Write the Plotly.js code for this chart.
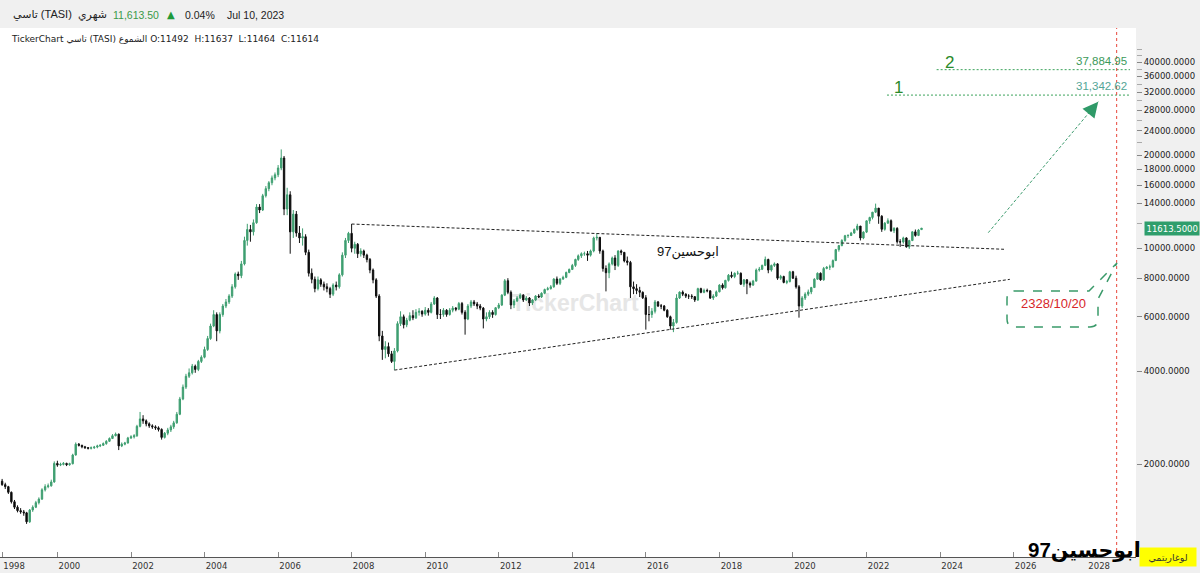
<!DOCTYPE html>
<html>
<head>
<meta charset="utf-8">
<script src="https://cdn.plot.ly/plotly-3.0.1.min.js"></script>
<style>
html,body{margin:0;padding:0;background:#f0f0f0;}
#chart{width:1200px;height:573px;}
</style>
</head>
<body>
<div id="chart"></div>
<script>
// ---- monthly candles of TASI, first candle = July 1998 ----
const firstMonth = [1998, 7];

const opens = [
  1760,1715,1690,1620,1510,1450,
  1413,1400,1390,1300,1420,1450,1500,1540,1650,1690,1700,1750,
  2010,1985,1995,2010,1990,2005,2140,2320,2300,2275,2260,2250,
  2258,2270,2290,2300,2330,2370,2420,2470,2500,2290,2320,2340,
  2430,2450,2470,2650,2800,2760,2700,2660,2640,2620,2590,2440,
  2518,2580,2640,2720,2900,3250,3550,3850,3950,4150,4050,4300,
  4437,4700,5100,5600,6100,5400,6100,6500,6700,7000,7500,8250,
  8150,8900,10600,11500,11300,12100,13600,13300,14800,15600,16300,16900,
  17300,18200,19600,13400,14900,11300,12900,11200,10800,10900,9700,8300,
  7933,7400,7900,7650,7500,7400,7100,7600,7500,8200,9500,10600,
  11176,10000,10300,9600,9800,9500,9200,8500,7900,7000,5200,4700,
  4803,4550,4300,4650,5700,6000,5650,5850,6050,5950,6200,6250,
  6121,6300,6200,6600,6900,6100,6100,6300,6100,6300,6400,6350,
  6620,6200,5900,6500,6700,6600,6500,6400,5900,6000,6200,6100,
  6418,6550,7050,7850,7200,6550,6750,6900,7050,6800,6900,6650,
  6801,7000,6950,7150,7350,7400,7500,7950,7700,7950,8050,8350,
  8536,8800,9200,9450,9600,9600,9500,9800,10800,10850,9800,8600,
  8333,8900,9300,8800,9800,9700,9100,9000,7500,7400,7300,7200,
  6912,6100,6100,6250,6700,6500,6500,6300,6000,5600,5750,6900,
  7210,7100,7000,7000,6970,6800,7400,7200,7300,7280,6900,7000,
  7226,7600,7450,7870,8180,8100,8300,8300,7650,7900,7700,7600,
  7827,8500,8550,8800,9200,8500,8800,8900,8000,8100,7750,7800,
  8389,8000,7500,6500,6900,7100,7220,7460,7940,8300,7900,8600,
  8690,8700,9120,9900,10200,10600,10980,11000,11200,11500,11800,10800,
  11280,12270,12580,13090,13490,12700,11520,12060,12280,11400,11600,10500,
  10480,10800,10100,10590,11300,11000,11492
];
const highs = [
  1790,1740,1700,1630,1530,1470,
  1440,1420,1400,1430,1470,1520,1560,1670,1720,1730,1780,2040,
  2050,2020,2030,2020,2020,2160,2350,2340,2310,2290,2270,2280,
  2290,2310,2320,2350,2390,2440,2500,2530,2510,2350,2360,2450,
  2480,2500,2680,2950,2880,2790,2730,2690,2670,2650,2610,2540,
  2620,2680,2760,2950,3300,3620,3920,4080,4220,4200,4350,4500,
  4800,5200,5700,6300,6200,6200,6600,6850,7100,7650,8350,8400,
  9100,10900,12000,11900,12400,13900,13900,15000,15900,16500,17200,17600,
  18600,20900,19900,15700,15300,13300,13200,11800,11600,11100,9900,8600,
  8100,8100,8000,7800,7700,7500,7700,7800,8300,9700,10800,11300,
  11980,10500,10400,10000,9900,9600,9300,8600,8000,7100,5400,5000,
  4950,4650,4750,5800,6250,6100,5950,6200,6300,6350,6400,6300,
  6450,6400,6700,7000,6950,6350,6400,6350,6400,6500,6450,6700,
  6700,6300,6600,6800,6800,6700,6600,6450,6200,6300,6300,6450,
  6650,7100,7950,8000,7300,6850,7000,7150,7100,7000,6950,6850,
  7050,7100,7200,7400,7500,7600,8000,8100,8000,8150,8400,8600,
  8900,9250,9550,9700,9750,9800,9900,10900,11160,10850,9900,8800,
  9000,9400,9500,9850,9900,9700,9400,9100,7800,7650,7500,7250,
  7050,6500,6400,6800,6750,6600,6550,6350,6050,5900,7100,7250,
  7300,7150,7100,7100,7000,7450,7450,7400,7400,7300,7100,7300,
  7650,7700,7900,8250,8400,8350,8450,8350,7950,7950,7800,7900,
  8600,8700,8850,9400,9250,8850,9000,8950,8200,8150,7900,8450,
  8450,8150,7600,7000,7200,7350,7500,8000,8350,8350,8700,8750,
  8850,9200,9950,10250,10700,11050,11100,11300,11600,12000,11800,11350,
  12300,12650,13100,13950,13500,12800,12150,12500,12400,11700,11700,10700,
  10900,10850,10650,11350,11500,11550,11637
];
const lows = [
  1700,1660,1600,1490,1430,1395,
  1380,1360,1280,1290,1400,1440,1480,1530,1630,1670,1690,1740,
  1960,1970,1980,1970,1975,1995,2130,2280,2250,2240,2230,2230,
  2240,2250,2270,2290,2310,2360,2410,2460,2220,2270,2300,2330,
  2410,2420,2450,2630,2700,2650,2620,2600,2580,2550,2400,2420,
  2480,2540,2600,2700,2880,3220,3500,3800,3900,3950,4000,4250,
  4400,4650,5050,5550,5000,5300,6000,6400,6600,6900,7400,7900,
  8000,8800,10200,10500,11000,12000,13000,13200,14600,15300,16000,16600,
  17000,17900,12800,12800,9600,10800,10900,10400,10200,9500,8100,7700,
  7200,7300,7500,7300,7200,6900,7000,7300,7400,8100,9300,10400,
  9700,9600,9300,9400,9300,9000,8300,7700,6900,5000,4350,4400,
  4450,4250,4030,4600,5600,5500,5550,5800,5850,5900,6050,6000,
  6050,6050,6150,6550,5900,5900,6000,6000,6050,6200,6250,6300,
  6100,5250,5850,6400,6500,6350,6300,5500,5800,5900,5950,6050,
  6350,6500,7000,7100,6350,6400,6700,6850,6700,6750,6500,6550,
  6750,6900,6900,7100,7300,7350,7450,7600,7600,7900,8000,8300,
  8500,8700,9100,9300,9450,9100,9400,9700,10600,9600,8400,7250,
  8000,8800,8500,8700,9500,9000,8800,6900,7100,7100,6950,6850,
  5450,5800,5950,6150,6450,6350,6250,5950,5450,5350,5700,6850,
  7000,6900,6850,6850,6700,6750,7150,7150,7200,6850,6800,6950,
  7200,7350,7400,7800,8000,8000,8200,7600,7500,7100,7450,7550,
  7800,8400,8500,8750,8300,8400,8700,7900,7900,7700,7650,7750,
  7950,7400,5960,6400,6800,7000,7100,7450,7900,7850,7850,8550,
  8500,8650,9100,9750,10150,10500,10800,10950,11150,11400,10600,10700,
  11200,12000,12400,13000,12000,11300,11400,12000,11300,11200,10350,10100,
  10350,10050,9950,10550,10900,10950,11464
];
const closes = [
  1715,1690,1620,1510,1450,1413,
  1400,1390,1300,1420,1450,1500,1540,1650,1690,1700,1750,2010,
  1985,1995,2010,1990,2005,2140,2320,2300,2275,2260,2250,2258,
  2270,2290,2300,2330,2370,2420,2470,2500,2290,2320,2340,2430,
  2450,2470,2650,2800,2760,2700,2660,2640,2620,2590,2440,2518,
  2580,2640,2720,2900,3250,3550,3850,3950,4150,4050,4300,4437,
  4700,5100,5600,6100,5400,6100,6500,6700,7000,7500,8250,8150,
  8900,10600,11500,11300,12100,13600,13300,14800,15600,16300,16900,17300,
  18200,19600,13400,14900,11300,12900,11200,10800,10900,9700,8300,7933,
  7400,7900,7650,7500,7400,7100,7600,7500,8200,9500,10600,11176,
  10000,10300,9600,9800,9500,9200,8500,7900,7000,5200,4700,4803,
  4550,4300,4650,5700,6000,5650,5850,6050,5950,6200,6250,6121,
  6300,6200,6600,6900,6100,6100,6300,6100,6300,6400,6350,6620,
  6200,5900,6500,6700,6600,6500,6400,5900,6000,6200,6100,6418,
  6550,7050,7850,7200,6550,6750,6900,7050,6800,6900,6650,6801,
  7000,6950,7150,7350,7400,7500,7950,7700,7950,8050,8350,8536,
  8800,9200,9450,9600,9600,9500,9800,10800,10850,9800,8600,8333,
  8900,9300,8800,9800,9700,9100,9000,7500,7400,7300,7200,6912,
  6100,6100,6250,6700,6500,6500,6300,6000,5600,5750,6900,7210,
  7100,7000,7000,6970,6800,7400,7200,7300,7280,6900,7000,7226,
  7600,7450,7870,8180,8100,8300,8300,7650,7900,7700,7600,7827,
  8500,8550,8800,9200,8500,8800,8900,8000,8100,7750,7800,8389,
  8000,7500,6500,6900,7100,7220,7460,7940,8300,7900,8600,8690,
  8700,9120,9900,10200,10600,10980,11000,11200,11500,11800,10800,11280,
  12270,12580,13090,13490,12700,11520,12060,12280,11400,11600,10500,10480,
  10800,10100,10590,11300,11000,11460,11614
];

// ---- drawn studies ----
const upperTrendX = ['2008-01-01', '2025-09-27'];
const upperTrendY = [11980, 9925];
const lowerTrendX = ['2009-03-01', '2025-11-24'];
const lowerTrendY = [4030, 7931];
const arrowX = ['2025-04-24', '2028-04-20'];
const arrowY = [11233, 29830];
const targetLevels = [31342.62, 37884.95];
const targetNames = ['1', '2'];
const targetLevelText = ['31,342.62', '37,884.95'];
const targetStarts = ['2022-07-23', '2023-11-28'];
const targetEnd = '2029-03-01';
const markerDate = '2028-10-20';
const markerText = '2328/10/20';
const lastPrice = 11613.5;

// ---- axis labels ----
const yTickVals = [2000,4000,6000,8000,10000,14000,16000,18000,20000,24000,28000,32000,36000,40000];
const yMinorVals = [12000,22000,26000,30000,34000,38000,42000,44000];
const xTickVals = ['1998-07-01','2000-01-01','2002-01-01','2004-01-01','2006-01-01','2008-01-01','2010-01-01','2012-01-01','2014-01-01','2016-01-01','2018-01-01','2020-01-01','2022-01-01','2024-01-01','2026-01-01','2028-01-01'];
const xTickText = ['1998','2000','2002','2004','2006','2008','2010','2012','2014','2016','2018','2020','2022','2024','2026','2028'];

// header texts
const headerName = 'تاسي (TASI)';
const headerPeriod = 'شهري';
const headerPrice = '11,613.50';
const headerChange = '0.04%';
const headerDate = 'Jul 10, 2023';
const ohlcLine = 'TickerChart تاسي (TASI) الشموع O:11492\u00a0\u00a0H:11637\u00a0\u00a0L:11464\u00a0\u00a0C:11614';
const authorText = 'ابوحسين97';
const scaleText = 'لوغاريتمي';

// ---- build ----
const dates = [];
for (let i = 0; i < closes.length; i++) {
  const t = firstMonth[0] * 12 + (firstMonth[1] - 1) + i;
  const yy = Math.floor(t / 12), mm = (t % 12) + 1;
  dates.push(yy + '-' + String(mm).padStart(2, '0') + '-01');
}

const PW = 1136, PT = 28, PH = 529;
const px = v => v / PW;
const py = v => (PT + PH - v) / PH;
const L10 = Math.log10;

const GREEN = '#3f9f71';
const FONT = 'DejaVu Sans, sans-serif';
const AFONT = 'Liberation Sans, Arial, DejaVu Sans, sans-serif';

const traces = [
  {
    type: 'candlestick', x: dates, open: opens, high: highs, low: lows, close: closes,
    increasing: {line: {color: GREEN, width: 1}, fillcolor: GREEN},
    decreasing: {line: {color: '#111111', width: 1}, fillcolor: '#000000'},
    whiskerwidth: 0, hoverinfo: 'skip', showlegend: false
  },
  {type: 'scatter', mode: 'lines', x: upperTrendX, y: upperTrendY,
   line: {color: '#222', width: 1, dash: '3px,2px'}, hoverinfo: 'skip'},
  {type: 'scatter', mode: 'lines', x: lowerTrendX, y: lowerTrendY,
   line: {color: '#222', width: 1, dash: '3px,2px'}, hoverinfo: 'skip'},
  {type: 'scatter', mode: 'lines', x: arrowX, y: arrowY,
   line: {color: '#3a9a6c', width: 1, dash: '3px,2px'}, hoverinfo: 'skip'}
];
targetLevels.forEach((lv, i) => {
  traces.push({type: 'scatter', mode: 'lines', x: [targetStarts[i], targetEnd], y: [lv, lv],
    line: {color: '#3aa35a', width: 1, dash: '2px,2px'}, hoverinfo: 'skip'});
});

const annotations = [
  // header row
  {xref: 'paper', yref: 'paper', x: px(11), y: py(15), xanchor: 'left', yanchor: 'middle', text: headerName, showarrow: false, font: {family: AFONT, size: 11, color: '#222'}},
  {xref: 'paper', yref: 'paper', x: px(76), y: py(15), xanchor: 'left', yanchor: 'middle', text: headerPeriod, showarrow: false, font: {family: AFONT, size: 11, color: '#222'}},
  {xref: 'paper', yref: 'paper', x: px(111), y: py(15), xanchor: 'left', yanchor: 'middle', text: headerPrice, showarrow: false, font: {family: AFONT, size: 10.5, color: '#3a9a48'}},
  {xref: 'paper', yref: 'paper', x: px(165), y: py(15), xanchor: 'left', yanchor: 'middle', text: '▲', showarrow: false, font: {family: FONT, size: 10, color: '#1f9a3a'}},
  {xref: 'paper', yref: 'paper', x: px(183), y: py(15), xanchor: 'left', yanchor: 'middle', text: headerChange, showarrow: false, font: {family: AFONT, size: 10.5, color: '#222'}},
  {xref: 'paper', yref: 'paper', x: px(225), y: py(15), xanchor: 'left', yanchor: 'middle', text: headerDate, showarrow: false, font: {family: AFONT, size: 10.5, color: '#222'}},
  {xref: 'paper', yref: 'paper', x: px(9), y: py(39), xanchor: 'left', yanchor: 'middle', text: ohlcLine, showarrow: false, font: {family: FONT, size: 9, color: '#222'}},
  // middle note
  {xref: 'paper', yref: 'paper', x: px(688), y: py(252), xanchor: 'center', yanchor: 'middle', text: authorText, showarrow: false, font: {family: AFONT, size: 13, color: '#111'}},
  // arrow head
  {xref: 'x', yref: 'y', x: arrowX[1], y: L10(arrowY[1]), ax: -9, ay: 11, text: '', showarrow: true,
   arrowhead: 2, arrowsize: 2.2, arrowwidth: 1.4, arrowcolor: '#2f9a68', standoff: 0},
  // callout text
  {xref: 'paper', yref: 'paper', x: px(1053), y: py(303), xanchor: 'center', yanchor: 'middle', text: markerText, showarrow: false, font: {family: AFONT, size: 13, color: '#d6262a'}},
  // current price tag
  {xref: 'paper', yref: 'y', x: 1, xshift: 8, y: L10(lastPrice), xanchor: 'left', yanchor: 'middle', text: lastPrice.toFixed(4), showarrow: false,
   bgcolor: '#2f9e6c', borderpad: 1.5, font: {family: FONT, size: 8.5, color: '#ffffff'}},
  // bottom right signature and scale tag
  {xref: 'paper', yref: 'paper', x: px(1084), y: py(550), xanchor: 'center', yanchor: 'middle', text: '<b>' + authorText + '</b>', showarrow: false, font: {family: AFONT, size: 20.5, color: '#000'}},
  {xref: 'paper', yref: 'paper', x: px(1168), y: py(557), xanchor: 'center', yanchor: 'middle', text: scaleText, showarrow: false,
   bgcolor: '#ffff00', width: 54, height: 16, font: {family: AFONT, size: 9.5, color: '#333'}}
];
targetLevels.forEach((lv, i) => {
  annotations.push({xref: 'x', yref: 'y', x: targetStarts[i], y: L10(lv), xanchor: 'left', yanchor: 'bottom',
    xshift: i === 0 ? 5 : 6, yshift: -4, text: targetNames[i], showarrow: false, font: {family: AFONT, size: 17, color: '#2a8a2a'}});
  annotations.push({xref: 'x', yref: 'y', x: targetEnd, y: L10(lv), xanchor: 'right', yanchor: 'bottom',
    xshift: -1, yshift: 1, text: targetLevelText[i], showarrow: false, font: {family: AFONT, size: 11.5, color: i === 0 ? '#52a596' : '#3c9a5a'}});
});

// callout outline (paper coordinates of the drawing tool)
const bx0 = 1007, bx1 = 1098, by0 = 291, by1 = 327, r = 8;
const P = (a, b) => px(a) + ',' + py(b);
const calloutPath = 'M' + P(bx0 + r, by0) + ' L' + P(1089, by0) + ' L' + P(1117, 263) + ' L' + P(bx1, 299) +
  ' L' + P(bx1, by1 - r) + ' Q' + P(bx1, by1) + ' ' + P(bx1 - r, by1) + ' L' + P(bx0 + r, by1) +
  ' Q' + P(bx0, by1) + ' ' + P(bx0, by1 - r) + ' L' + P(bx0, by0 + r) + ' Q' + P(bx0, by0) + ' ' + P(bx0 + r, by0) + ' Z';

const shapes = [
  {type: 'rect', xref: 'paper', yref: 'paper', x0: px(470), x1: px(680), y0: py(315), y1: py(287), layer: 'below',
   line: {width: 0}, fillcolor: 'rgba(0,0,0,0)',
   label: {text: '<b>TickerChart</b>', textposition: 'middle center', font: {family: AFONT, size: 23, color: '#e6e6e6'}}},
  {type: 'line', xref: 'x', yref: 'paper', x0: markerDate, x1: markerDate, y0: 0, y1: 1,
   line: {color: '#e8463c', width: 1, dash: 'dot'}},
  {type: 'path', xref: 'paper', yref: 'paper', path: calloutPath,
   line: {color: '#3a9a6a', width: 1.5, dash: 'dash'}, fillcolor: 'rgba(0,0,0,0)'},
  {type: 'path', xref: 'paper', yref: 'y', xsizemode: 'pixel', ysizemode: 'pixel', xanchor: 1, yanchor: L10(lastPrice),
   path: 'M 2 0 L 9 -6.5 L 9 6.5 Z', fillcolor: '#2f9e6c', line: {width: 0}}
];

const layout = {
  width: 1200, height: 573,
  margin: {l: 0, r: 64, t: PT, b: 16, pad: 0},
  paper_bgcolor: '#f0f0f0', plot_bgcolor: '#ffffff',
  showlegend: false, hovermode: false, dragmode: false,
  xaxis: {
    type: 'date', range: ['1998-06-10', '2029-04-30'],
    rangeslider: {visible: false},
    tickvals: xTickVals, ticktext: xTickText,
    ticks: 'inside', ticklen: 5, tickcolor: '#888', tickwidth: 1,
    ticklabelshift: 12, ticklabelstandoff: 1,
    tickfont: {family: FONT, size: 8.5, color: '#333'},
    showgrid: false, zeroline: false,
    showline: true, linecolor: '#555', linewidth: 1, fixedrange: true
  },
  yaxis: {
    type: 'log', side: 'right', range: [3.0, 4.7134],
    tickvals: yTickVals, ticktext: yTickVals.map(v => v.toFixed(4)),
    ticks: 'outside', ticklen: 5, tickcolor: '#888', tickwidth: 1,
    minor: {tickvals: yMinorVals, ticks: 'outside', ticklen: 5, tickcolor: '#aaa'},
    tickfont: {family: FONT, size: 8.5, color: '#222'},
    showgrid: false, zeroline: false, showline: false, fixedrange: true
  },
  annotations: annotations,
  shapes: shapes
};

Plotly.newPlot('chart', traces, layout, {staticPlot: true, displayModeBar: false});
</script>
</body>
</html>
